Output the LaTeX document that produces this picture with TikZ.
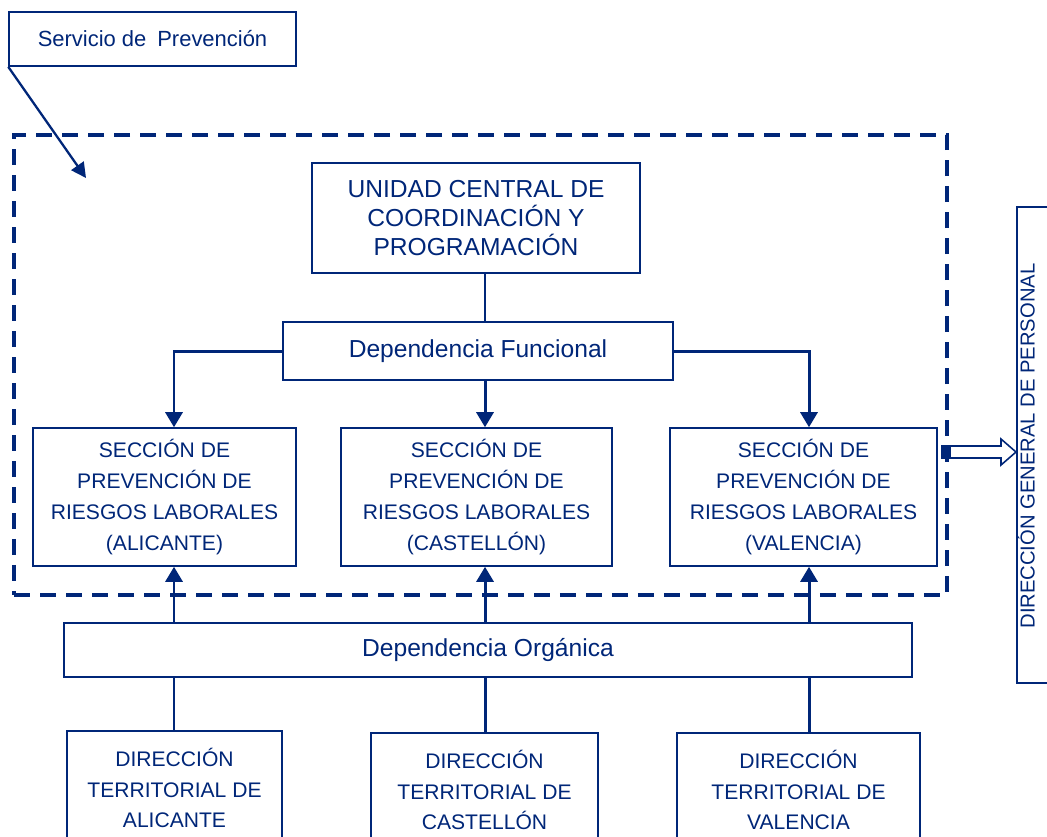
\documentclass[tikz,border=0pt]{standalone}
\usepackage{fontspec}
\setmainfont{Liberation Sans}
\usetikzlibrary{calc,positioning,arrows.meta}
\definecolor{navy}{RGB}{0,38,120}

\begin{document}
\begin{tikzpicture}[x=0.02cm, y=-0.02cm,
  box/.style={rectangle, draw=navy, line width=0.9pt, text=navy,
    align=center, inner sep=0pt},
  capsbox/.style={box, font=\fontsize{12}{17.5}\selectfont},
  depbox/.style={box, font=\fontsize{14}{16.5}\selectfont},
  marco/.style={rectangle, draw=navy, line width=2.4pt, inner sep=0pt,
    dash pattern=on 0.32cm off 0.2cm},
  link/.style={draw=navy, line width=1.7pt},
  down/.style={link, -{Triangle[length=0.3cm, width=0.34cm]}},
]
  \useasboundingbox (0,0) rectangle (1047,836);

  % === columns of the connectors ===
  \coordinate (colA) at (174,0);
  \coordinate (colC) at (485,0);
  \coordinate (colV) at (809,0);

  % === label and dashed frame ===
  \node[box, font=\fontsize{12.5}{15}\selectfont, minimum width=5.74cm,
    minimum height=1.08cm] (servicio) at (152.5,39) {Servicio de\enspace Prevención};
  \node[marco, minimum width=18.66cm, minimum height=9.2cm] (frame) at (480.5,365) {};
  \coordinate (svtip) at (86,178);

  % === central unit ===
  \node[depbox, minimum width=6.56cm, minimum height=2.2cm] (unidad) at (476,218)
    {UNIDAD CENTRAL DE\\COORDINACIÓN Y\\PROGRAMACIÓN};
  \node[depbox, minimum width=7.8cm, minimum height=1.16cm] (funcional) at (478,351)
    {Dependencia Funcional};

  % === sections ===
  \node[capsbox, minimum width=5.26cm, minimum height=2.76cm] (secA) at (164.5,497)
    {SECCIÓN DE\\PREVENCIÓN DE\\RIESGOS LABORALES\\(ALICANTE)};
  \node[capsbox, minimum width=5.42cm, minimum height=2.76cm] (secC) at (476.5,497)
    {SECCIÓN DE\\PREVENCIÓN DE\\RIESGOS LABORALES\\(CASTELLÓN)};
  \node[capsbox, minimum width=5.34cm, minimum height=2.76cm] (secV) at (803.5,497)
    {SECCIÓN DE\\PREVENCIÓN DE\\RIESGOS LABORALES\\(VALENCIA)};

  % === organic dependence and territorial offices ===
  \node[depbox, minimum width=16.96cm, minimum height=1.08cm] (organica) at (488,650)
    {Dependencia Orgánica};
  \node[capsbox, minimum width=4.3cm, minimum height=2.28cm] (dirA) at (174.5,788)
    {DIRECCIÓN\\TERRITORIAL DE\\ALICANTE};
  \node[capsbox, minimum width=4.54cm, minimum height=2.28cm] (dirC) at (484.5,790)
    {DIRECCIÓN\\TERRITORIAL DE\\CASTELLÓN};
  \node[capsbox, minimum width=4.86cm, minimum height=2.28cm] (dirV) at (798.5,790)
    {DIRECCIÓN\\TERRITORIAL DE\\VALENCIA};

  % === general directorate (right) ===
  \node[box, rotate=90, anchor=north, minimum width=9.52cm, minimum height=1.2cm]
    (personal) at (1016,445) {};
  \node[text=navy, rotate=90, font=\fontsize{11.5}{13}\selectfont] (personaltxt)
    at (1026,446) {DIRECCIÓN GENERAL DE PERSONAL};

  % === functional edges ===
  \draw[link, line width=0.9pt] (unidad.south -| colC) -- (funcional.north -| colC);
  \draw[down] (funcional.west) -| (secA.north -| colA);
  \draw[down] (funcional.south -| colC) -- (secC.north -| colC);
  \draw[down] (funcional.east) -| (secV.north -| colV);

  % === organic edges ===
  \draw[down] (organica.north -| colA) -- (secA.south -| colA);
  \draw[down] (organica.north -| colC) -- (secC.south -| colC);
  \draw[down] (organica.north -| colV) -- (secV.south -| colV);
  \draw[link] (dirA.north -| colA) -- (organica.south -| colA);
  \draw[link] (dirC.north -| colC) -- (organica.south -| colC);
  \draw[link] (dirV.north -| colV) -- (organica.south -| colV);

  % === label pointer ===
  \draw[link, line width=1.3pt, -{Triangle[length=0.3cm, width=0.3cm]}]
    (servicio.south west) -- (svtip);

  % === hollow arrow to the directorate ===
  \coordinate (salida) at (943,452);
  \coordinate (llegada) at (personal.north |- salida);
  \draw[navy, line width=0.9pt, fill=white] ($(salida)+(0,-6)$)
    -- ($(llegada)+(-15,-6)$) -- ($(llegada)+(-15,-13)$) -- (llegada)
    -- ($(llegada)+(-15,13)$) -- ($(llegada)+(-15,6)$) -- ($(salida)+(0,6)$) -- cycle;
  \fill[navy] ($(salida)+(-2,-7)$) rectangle ($(salida)+(8,7)$);

\end{tikzpicture}
\end{document}
